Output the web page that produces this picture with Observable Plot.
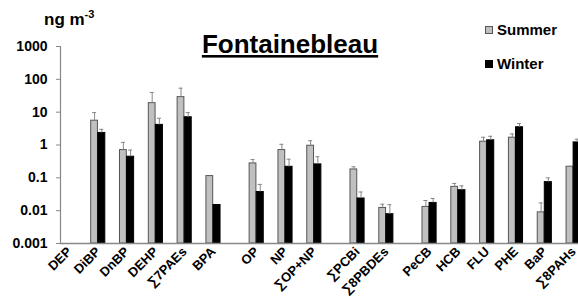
<!DOCTYPE html>
<html>
<head>
<meta charset="utf-8">
<script src="https://cdn.jsdelivr.net/npm/d3@7"></script>
<script src="https://cdn.jsdelivr.net/npm/@observablehq/plot@0.6"></script>
<style>
  body { margin: 0; background: #fff; }
  #chart { width: 578px; height: 307px; overflow: hidden; }
</style>
</head>
<body>
<div id="chart"></div>
<script>
// ---- data ----
const categories = ["DEP","DiBP","DnBP","DEHP","\u22117PAEs","BPA","OP","NP","\u2211OP+NP","\u2211PCBi","\u22118PBDEs","PeCB","HCB","FLU","PHE","BaP","\u22118PAHs"];
const groupSizes = [6, 3, 2, 6];
const summer   = [null, 5.5, 0.70, 18.8, 28.7, 0.113, 0.275, 0.70, 0.95, 0.18, 0.0121, 0.013, 0.053, 1.26, 1.67, 0.0089, 0.217];
const summerSD = [null, 4.2, 0.5, 21, 25, 0, 0.085, 0.35, 0.4, 0.037, 0.0036, 0.0074, 0.0145, 0.46, 0.5, 0.0083, 0.008];
const winter   = [null, 2.33, 0.44, 4.1, 7.0, 0.0149, 0.037, 0.217, 0.257, 0.0235, 0.0078, 0.0172, 0.042, 1.39, 3.47, 0.074, 1.2];
const winterSD = [null, 0.67, 0.26, 2.4, 2.7, 0, 0.026, 0.153, 0.183, 0.0135, 0.0074, 0.0063, 0.015, 0.45, 1.03, 0.026, 0.3];
const yTicks = [1000, 100, 10, 1, 0.1, 0.01, 0.001];
const seasons = ["Summer", "Winter"];

// ---- layout positions (category index with half-slot gaps between groups) ----
const positions = [];
{
  let p = 0;
  groupSizes.forEach((n) => {
    for (let i = 0; i < n; i++) { positions.push(p); p += 1; }
    p += 0.5;
  });
}
const nameAt = new Map(positions.map((p, i) => [p, categories[i]]));

const rows = [];
categories.forEach((c, i) => {
  if (summer[i] != null) rows.push({cat: c, season: "Summer", v: summer[i], sd: summerSD[i], x1: positions[i] - 0.245, x2: positions[i] - 0.01});
  if (winter[i] != null) rows.push({cat: c, season: "Winter", v: winter[i], sd: winterSD[i], x1: positions[i], x2: positions[i] + 0.245});
});
rows.forEach(r => { r.xc = (r.x1 + r.x2) / 2; r.top = r.v + r.sd; });
const errRows = rows.filter(r => r.sd > 0);

const xDomain = [-0.31, 17.67];
const font = "'Liberation Sans', Arial, sans-serif";

const plot = Plot.plot({
  width: 578,
  height: 307,
  marginLeft: 60,
  marginRight: 0,
  marginTop: 46,
  marginBottom: 64,
  style: {fontFamily: font, fontSize: "14px", fontWeight: "bold", color: "#000", background: "#fff"},
  x: {type: "linear", domain: xDomain, axis: null},
  y: {type: "log", domain: [0.001, 1000], axis: null},
  marks: [
    Plot.rect(rows, {
      x1: "x1", x2: "x2", y1: 0.001, y2: "v",
      fill: d => d.season === "Summer" ? "#c0c0c0" : "#000",
      stroke: d => d.season === "Summer" ? "#555" : "#000",
      strokeWidth: 1
    }),
    Plot.ruleX(errRows, {x: "xc", y1: "v", y2: "top", stroke: "#888", strokeWidth: 1}),
    Plot.ruleY(errRows, {y: "top", x1: d => d.xc - 0.07, x2: d => d.xc + 0.07, stroke: "#888", strokeWidth: 1}),
    Plot.ruleY([0.001], {stroke: "#888", strokeWidth: 1.5}),
    Plot.ruleX([xDomain[0]], {stroke: "#888", strokeWidth: 1.2}),
    Plot.axisY({ticks: yTicks, tickFormat: d => String(d), tickSize: 4, tickPadding: 9, stroke: "#888", fontSize: 14, fontWeight: "bold"}),
    Plot.axisX({
      ticks: positions,
      tickFormat: d => nameAt.get(d),
      tickRotate: -45,
      tickSize: 0,
      tickPadding: 6,
      fontSize: 13,
      fontWeight: "bold",
      fill: "#000"
    })
  ]
});

document.getElementById("chart").appendChild(plot);

// ---- title, unit label and legend ----
const svg = d3.select(plot);
const ann = svg.append("g").attr("font-family", font).attr("font-weight", "bold").attr("fill", "#000").attr("text-anchor", "start");

const unit = ann.append("text").attr("x", 44).attr("y", 25).attr("font-size", 17);
unit.append("tspan").text("ng m");
unit.append("tspan").attr("font-size", 11).attr("dy", -7).text("-3");

ann.append("text").attr("x", 290).attr("y", 53).attr("text-anchor", "middle")
  .attr("font-size", 26).attr("text-decoration", "underline").text("Fontainebleau");

const legendY = [35, 69];
seasons.forEach((s, i) => {
  ann.append("rect").attr("x", 485.5).attr("y", legendY[i] - 8.5).attr("width", 7).attr("height", 7)
    .attr("fill", s === "Summer" ? "#c0c0c0" : "#000").attr("stroke", s === "Summer" ? "#555" : "#000");
  ann.append("text").attr("x", 497).attr("y", legendY[i]).attr("font-size", 15).text(s);
});
</script>
</body>
</html>
